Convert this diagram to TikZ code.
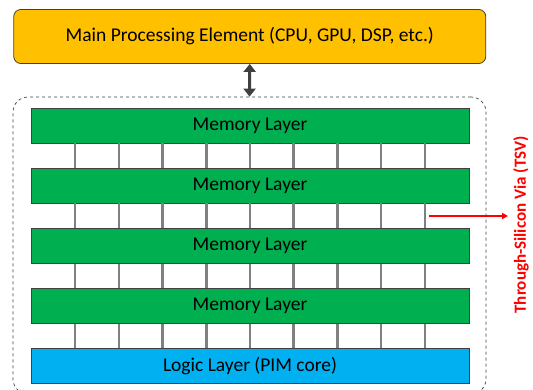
\documentclass[tikz,border=0pt]{standalone}
\usepackage{fontspec}
\setmainfont{Carlito}
\usepackage{tikz}
\usetikzlibrary{arrows.meta,positioning}
\definecolor{peorange}{HTML}{FFC000}
\definecolor{memgreen}{HTML}{00B050}
\definecolor{logicblue}{HTML}{00B0F0}
\definecolor{edgegray}{HTML}{404040}

\begin{document}
\begin{tikzpicture}[
    x=1pt, y=-1pt,
    node distance=24.3pt,
    font=\fontsize{19.5}{22}\selectfont,
    >={Triangle[length=6pt,width=6pt]},
    pe/.style={
		rectangle,
		rounded corners=7pt,
		draw=edgegray,
		line width=0.8pt,
		fill=peorange,
		minimum width=472pt,
		minimum height=54pt
	},
	layer/.style={
		rectangle,
		draw=edgegray,
		line width=0.8pt,
		minimum width=438pt,
		minimum height=35pt,
		inner sep=0pt
	},
	memory/.style={layer, fill=memgreen},
	logic/.style={layer, fill=logicblue},
	stack/.style={
		rectangle,
		rounded corners=15pt,
		draw=edgegray,
		dashed,
		line width=0.7pt,
		minimum width=473pt,
		minimum height=297pt
	},
	tsv/.style={
		draw=gray,
		line width=2.5pt
	},
	tsvlabel/.style={
		text=red,
		font=\fontsize{17}{19}\selectfont\bfseries,
		inner sep=0pt
	}
  ]
  \useasboundingbox (0,0) rectangle (533,390);

  % processing element and the stacked memory
  \node [pe] (pe) at (249.75,36.5) {Main Processing Element (CPU, GPU, DSP, etc.)};
  \node [stack] (cube) at (249.5,245.5) {};

  \node [memory] (mem1) at (250,125.5) {Memory Layer};
  \node [memory, below=of mem1] (mem2) {Memory Layer};
  \node [memory, below=of mem2] (mem3) {Memory Layer};
  \node [memory, below=of mem3] (mem4) {Memory Layer};
  \node [logic, below=of mem4] (logic) {Logic Layer (PIM core)};

  % vertical vias between the layers
  \foreach \a/\b in {mem1/mem2, mem2/mem3, mem3/mem4, mem4/logic}
    \foreach \i in {-4,...,4}
      \draw [tsv] ([xshift=43.7*\i pt]\a.south) -- ([xshift=43.7*\i pt]\b.north);

  \draw [edgegray, line width=3pt, {Triangle[length=8pt,width=12pt]}-{Triangle[length=8pt,width=12pt]}] (pe.south) -- (cube.north);

  \node [tsvlabel, rotate=90] (tsvtext) at (521,225) {Through-Silicon Via (TSV)};
  \coordinate (tsvstart) at (429,216);
  \draw [red, line width=1.5pt, ->, shorten >=5pt] (tsvstart) -- (tsvstart -| tsvtext.north);
\end{tikzpicture}
\end{document}
